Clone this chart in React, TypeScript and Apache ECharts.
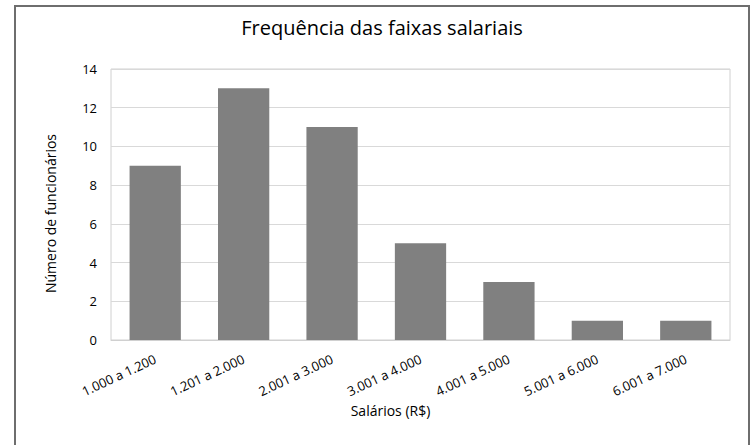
import React, { useEffect, useRef } from "react";
import * as echarts from "echarts";

const title = "Frequência das faixas salariais";
const categories = [
  "1.000 a 1.200",
  "1.201 a 2.000",
  "2.001 a 3.000",
  "3.001 a 4.000",
  "4.001 a 5.000",
  "5.001 a 6.000",
  "6.001 a 7.000",
];
const counts = [9, 13, 11, 5, 3, 1, 1];
const yAxisName = "Número de funcionários";
const xAxisName = "Salários (R$)";

const FONT = "'Open Sans', 'Noto Sans', sans-serif";

export default function App() {
  const ref = useRef<HTMLDivElement>(null);
  useEffect(() => {
    document.body.style.margin = "0";
    const chart = echarts.init(ref.current!, null, { renderer: "svg" });
    chart.setOption({
      animation: false,
      backgroundColor: "#ffffff",
      title: {
        text: title,
        left: 382,
        textAlign: "center",
        top: 17,
        padding: 0,
        textStyle: { fontFamily: FONT, fontSize: 20, fontWeight: "normal", color: "#000000" },
      },
      graphic: [
        {
          type: "rect",
          shape: { x: 15, y: 6, width: 734, height: 460 },
          style: { fill: "none", stroke: "#6e6e6e", lineWidth: 2 },
          silent: true,
        },
      ],
      grid: { left: 111, top: 69, right: 25, bottom: 105, show: true, borderColor: "#d0d0d0", borderWidth: 1 },
      xAxis: {
        type: "category",
        data: categories,
        name: xAxisName,
        nameLocation: "middle",
        nameGap: 62,
        nameTextStyle: { fontFamily: FONT, fontSize: 14, color: "#000000", padding: [0, 60, 0, 0] },
        axisLine: { show: true, lineStyle: { color: "#d0d0d0" } },
        axisTick: { show: false },
        axisLabel: {
          rotate: 25,
          margin: 18,
          fontFamily: FONT,
          fontSize: 13,
          color: "#000000",
          interval: 0,
        },
      },
      yAxis: {
        type: "value",
        min: 0,
        max: 14,
        interval: 2,
        name: yAxisName,
        nameLocation: "middle",
        nameGap: 54,
        nameTextStyle: { fontFamily: FONT, fontSize: 14, color: "#000000", padding: [0, 18, 0, 0] },
        axisLine: { show: false },
        axisTick: { show: false },
        axisLabel: { fontFamily: FONT, fontSize: 13, color: "#000000", margin: 14 },
        splitLine: { lineStyle: { color: "#d9d9d9", width: 1 } },
      },
      series: [
        {
          type: "bar",
          data: counts,
          barCategoryGap: "42%",
          itemStyle: { color: "#808080" },
        },
      ],
    });
    return () => chart.dispose();
  }, []);
  return <div ref={ref} style={{ width: 755, height: 445 }} />;
}
